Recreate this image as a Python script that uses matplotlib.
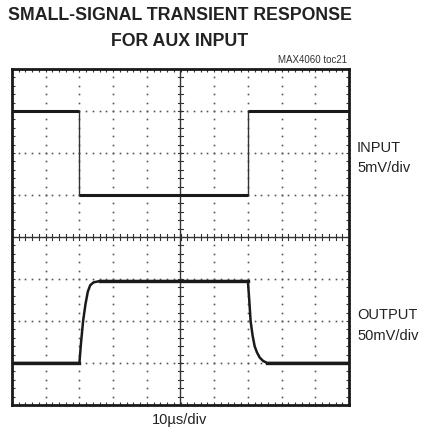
import numpy as np
import matplotlib.pyplot as plt

plt.rcParams['font.family'] = ['Liberation Sans', 'DejaVu Sans']

# traces in screen divisions (x: -5..5, y: -4..4)
in_t = [-5.0, -3.0, -3.0, 2.0, 2.0, 5.0]
in_v = [3.0, 3.0, 1.0, 1.0, 3.0, 3.0]

out_t = [-5.0, -3.0, -2.95, -2.89, -2.82, -2.75, -2.68, -2.58, -2.4, 2.0,
         2.04, 2.08, 2.14, 2.2, 2.27, 2.35, 2.45, 2.57, 5.0]
out_v = [-3.0, -3.0, -2.5, -2.0, -1.6, -1.3, -1.15, -1.08, -1.05, -1.05,
         -1.5, -2.0, -2.35, -2.6, -2.75, -2.87, -2.95, -3.0, -3.0]

fig = plt.figure(figsize=(4.22, 4.40), dpi=100)
ax = fig.add_axes([12/422, 1-405/440, 337/422, 336/440])
ax.set_xlim(-5, 5)
ax.set_ylim(-4, 4)

# dotted graticule
for gx in range(-4, 5):
    if gx == 0:
        continue
    yy = np.arange(-4, 4.01, 0.2)
    ax.plot(np.full_like(yy, gx), yy, ls='', marker='s', ms=1.2, color='#555555', mew=0)
for gy in range(-3, 4):
    if gy == 0:
        continue
    xx = np.arange(-5, 5.01, 0.2)
    ax.plot(xx, np.full_like(xx, gy), ls='', marker='s', ms=1.2, color='#555555', mew=0)

# centre axes with small cross ticks
ax.axhline(0, color='#333333', lw=1.0)
ax.axvline(0, color='#333333', lw=1.0)
for t in np.arange(-5, 5.01, 0.2):
    ax.plot([t, t], [-0.07, 0.07], color='#333333', lw=0.8)
for t in np.arange(-4, 4.01, 0.2):
    ax.plot([-0.08, 0.08], [t, t], color='#333333', lw=0.8)

# input: thin edges, thick flat levels
ax.plot(in_t, in_v, color='#333333', lw=1.0)
for i in range(len(in_t) - 1):
    if in_v[i] == in_v[i + 1]:
        ax.plot(in_t[i:i + 2], in_v[i:i + 2], color='#1a1a1a', lw=2.2, solid_capstyle='butt')
ax.plot(out_t, out_v, color='#1a1a1a', lw=1.8)
ax.plot(out_t[8:10], out_v[8:10], color='#1a1a1a', lw=2.4)
ax.plot(out_t[:2], out_v[:2], color='#1a1a1a', lw=2.4)
ax.plot(out_t[-2:], out_v[-2:], color='#1a1a1a', lw=2.4)

ax.set_xticks(np.arange(-5, 5.01, 0.2))
ax.set_yticks(np.arange(-4, 4.01, 0.2))
ax.tick_params(direction='in', length=2.5, width=0.8, color='#333333',
               top=True, right=True, labelbottom=False, labelleft=False)
for s in ax.spines.values():
    s.set_linewidth(2.0)
    s.set_color('#1a1a1a')

fig.text(180/422, 1-16/440, 'SMALL-SIGNAL TRANSIENT RESPONSE', ha='center', va='center',
         fontsize=12.8, fontweight='bold', color='#222222')
fig.text(180/422, 1-41/440, 'FOR AUX INPUT', ha='center', va='center',
         fontsize=12.8, fontweight='bold', color='#222222')
fig.text(347/422, 1-60/440, 'MAX4060 toc21', ha='right', va='center', fontsize=7, color='#333333')

fig.text(357/422, 1-148/440, 'INPUT', ha='left', va='center', fontsize=10.5, color='#222222')
fig.text(357/422, 1-168/440, '5mV/div', ha='left', va='center', fontsize=10.5, color='#222222')
fig.text(357/422, 1-315/440, 'OUTPUT', ha='left', va='center', fontsize=10.5, color='#222222')
fig.text(357/422, 1-336/440, '50mV/div', ha='left', va='center', fontsize=10.5, color='#222222')
fig.text(180/422, 1-420/440, '10µs/div', ha='center', va='center', fontsize=10.5, color='#222222')

fig.savefig('out.png', dpi=100)
